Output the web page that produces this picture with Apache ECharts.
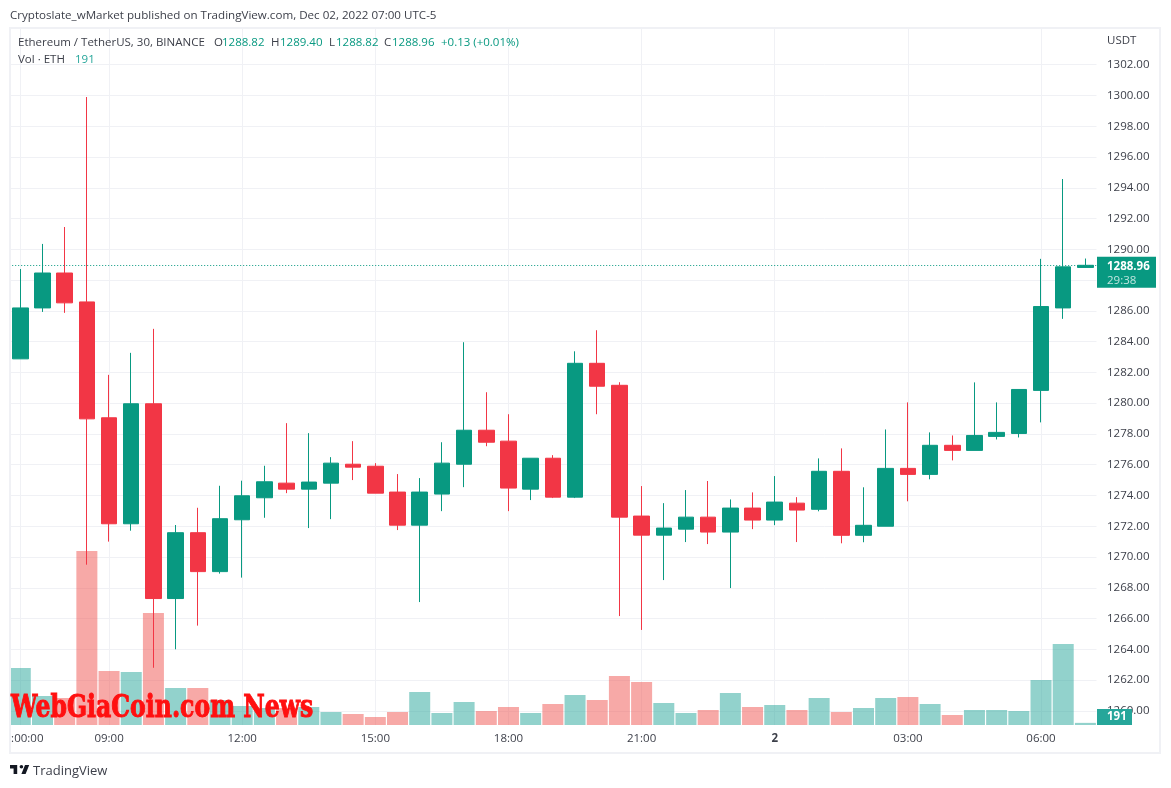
<!DOCTYPE html>
<html>
<head>
<meta charset="utf-8">
<title>ETH/USDT 30m</title>
<style>
  html, body { margin: 0; padding: 0; background: #fff; }
  #chart { width: 1171px; height: 788px; }
</style>
<script src="https://cdn.jsdelivr.net/npm/echarts@6/dist/echarts.min.js"></script>
</head>
<body>
<div id="chart"></div>
<script>
const categories = [
  '07:00','07:30','08:00','08:30','09:00','09:30','10:00','10:30','11:00','11:30',
  '12:00','12:30','13:00','13:30','14:00','14:30','15:00','15:30','16:00','16:30',
  '17:00','17:30','18:00','18:30','19:00','19:30','20:00','20:30','21:00','21:30',
  '22:00','22:30','23:00','23:30','00:00','00:30','01:00','01:30','02:00','02:30',
  '03:00','03:30','04:00','04:30','05:00','05:30','06:00','06:30','07:00 '
];
const opens = [
  1282.88,1286.19,1288.46,1286.58,1279.05,1272.16,1279.96,1267.30,1271.58,1269.05,
  1272.42,1273.85,1274.80,1274.41,1274.80,1276.03,1275.90,1274.22,1272.07,1274.09,
  1276.03,1278.24,1277.53,1274.41,1276.42,1273.89,1282.59,1281.16,1272.66,1271.42,
  1271.81,1272.59,1271.62,1273.18,1272.40,1273.50,1273.10,1275.57,1271.41,1272.00,
  1275.76,1275.37,1277.26,1276.93,1277.84,1278.03,1280.83,1286.19,1288.82
];
const closes = [
  1286.19,1288.46,1286.52,1278.98,1272.16,1279.96,1267.30,1271.58,1269.05,1272.49,
  1273.98,1274.89,1274.41,1274.87,1276.10,1275.84,1274.15,1272.07,1274.22,1276.10,
  1278.24,1277.46,1274.48,1276.42,1273.89,1282.59,1281.10,1272.59,1271.42,1271.88,
  1272.59,1271.62,1273.18,1272.40,1273.57,1273.05,1275.57,1271.41,1272.06,1275.76,
  1275.37,1277.26,1276.93,1277.90,1278.10,1280.89,1286.28,1288.86,1288.96
];
const lows = [
  1282.88,1285.93,1285.87,1269.50,1271.00,1271.71,1262.80,1264.00,1265.54,1268.92,
  1268.66,1272.55,1274.15,1271.88,1272.46,1275.00,1274.15,1271.75,1267.07,1272.98,
  1274.54,1277.20,1272.98,1273.70,1273.83,1273.83,1279.28,1266.16,1265.26,1268.50,
  1270.97,1270.84,1267.98,1271.81,1272.07,1270.97,1272.97,1270.89,1270.96,1272.00,
  1273.62,1275.05,1276.28,1276.93,1277.64,1277.77,1278.75,1285.48,1288.82
];
const highs = [
  1288.72,1290.35,1291.45,1299.90,1281.84,1283.27,1284.83,1272.08,1273.20,1274.63,
  1274.96,1275.93,1278.70,1278.05,1276.49,1277.53,1276.10,1275.39,1275.13,1277.46,
  1283.96,1280.71,1279.28,1276.42,1276.62,1283.37,1284.74,1281.36,1274.61,1273.50,
  1274.35,1274.94,1273.74,1274.20,1275.26,1273.89,1276.41,1277.06,1274.53,1278.29,
  1280.05,1278.10,1277.90,1281.35,1280.05,1280.89,1289.38,1294.57,1289.40
];
const volumes = [
  5130,2610,2430,15660,4860,4770,10080,3330,3330,2250,
  1710,1530,1530,1620,1170,990,720,1170,2970,1080,
  2070,1260,1620,1080,1890,2700,2250,4410,3870,1980,
  1080,1350,2880,1620,1800,1350,2430,1170,1530,2430,
  2520,1890,900,1350,1350,1260,4050,7290,191
];
const priceTicks = [1260,1262,1264,1266,1268,1270,1272,1274,1276,1278,1280,1282,1284,1286,1288,1290,1292,1294,1296,1298,1300,1302];
const timeLabels = {
  '07:00': '{first|:00:00}', '09:00': '09:00', '12:00': '12:00', '15:00': '15:00',
  '18:00': '18:00', '21:00': '21:00', '00:00': '{day|2}', '03:00': '03:00', '06:00': '06:00'
};
const lastClose = closes[closes.length - 1];
const lastVolume = volumes[volumes.length - 1];

const UP = '#089981';
const DOWN = '#f23645';
const GRID = '#f0f1f5';
const TEXT = '#3c3f49';
const FONT = '"Open Sans", sans-serif';

const chart = echarts.init(document.getElementById('chart'), null, { renderer: 'canvas' });

chart.setOption({
  animation: false,
  backgroundColor: '#fff',
  grid: { left: 9.2, top: 29, width: 1087.3, height: 696 },
  xAxis: {
    type: 'category',
    data: categories,
    boundaryGap: true,
    axisLine: { show: false },
    axisTick: { show: false, alignWithLabel: true, interval: (i, v) => v in timeLabels },
    splitLine: { show: true, alignWithLabel: true, interval: (i, v) => v in timeLabels, lineStyle: { color: GRID, width: 1 } },
    axisLabel: {
      interval: (i, v) => v in timeLabels,
      margin: 8,
      color: TEXT,
      fontFamily: FONT,
      fontSize: 11.5,
      formatter: v => timeLabels[v] || '',
      rich: {
        first: { padding: [0, 0, 0, 14], color: TEXT, fontFamily: FONT, fontSize: 11.5 },
        day: { fontWeight: 'bold', color: TEXT, fontFamily: FONT, fontSize: 11.5 }
      }
    }
  },
  yAxis: [
    {
      type: 'value',
      position: 'right',
      min: 1259.08,
      max: 1304.32,
      axisLine: { show: false },
      axisTick: { show: false, customValues: priceTicks },
      splitLine: { show: true, lineStyle: { color: GRID, width: 1 } },
      axisLabel: {
        customValues: priceTicks,
        margin: 10.5,
        padding: [2, 0, 0, 0],
        color: TEXT,
        fontFamily: FONT,
        fontSize: 11.5,
        formatter: v => v.toFixed(2)
      }
    },
    { type: 'value', min: 0, max: 62640, show: false }
  ],
  series: [
    {
      name: 'Vol',
      type: 'bar',
      yAxisIndex: 1,
      barWidth: 21,
      data: volumes.map((v, i) => ({
        value: v,
        itemStyle: { color: closes[i] >= opens[i] ? 'rgba(38,166,154,0.5)' : 'rgba(239,83,80,0.5)' }
      }))
    },
    {
      name: 'ETHUSDT',
      type: 'candlestick',
      yAxisIndex: 0,
      barWidth: 16,
      data: opens.map((o, i) => [o, closes[i], lows[i], highs[i]]),
      itemStyle: { color: UP, color0: DOWN, borderColor: UP, borderColor0: DOWN, borderWidth: 1 },
      markLine: {
        silent: true,
        symbol: 'none',
        label: { show: false },
        lineStyle: { color: UP, type: [1, 2], width: 1 },
        data: [{ yAxis: lastClose }]
      }
    }
  ]
});

// the two tags on the price scale follow the last close / last volume
const closeY = chart.convertToPixel({ yAxisIndex: 0 }, lastClose);
const volY = chart.convertToPixel({ yAxisIndex: 1 }, 0);

const legendParts = [
  ['Ethereum / TetherUS, 30, BINANCE', 18, TEXT],
  ['O', 214, TEXT], ['1288.82', 222, UP],
  ['H', 271, TEXT], ['1289.40', 280, UP],
  ['L', 329, TEXT], ['1288.82', 336, UP],
  ['C', 384, TEXT], ['1288.96', 392, UP],
  ['+0.13 (+0.01%)', 441, UP]
];
const txt = (text, x, y, fill, size, extra) => ({
  type: 'text', z: 50, x, y,
  style: Object.assign({ text, fill, font: (size || 11.5) + 'px ' + FONT, textVerticalAlign: 'middle' }, extra || {})
});

chart.setOption({
  graphic: [
    { type: 'rect', z: 40, shape: { x: 10, y: 28, width: 1150, height: 725 }, style: { fill: 'none', stroke: GRID, lineWidth: 2 } },
    { type: 'rect', z: 39, shape: { x: 0, y: 0, width: 9, height: 788 }, style: { fill: '#fff' } },
    txt('Cryptoslate_wMarket published on TradingView.com, Dec 02, 2022 07:00 UTC-5', 10, 16, TEXT, 11.6),
    ...legendParts.map(p => txt(p[0], p[1], 43, p[2])),
    txt('Vol · ETH', 18, 60, TEXT),
    txt(String(lastVolume), 75, 60, '#26a69a'),
    txt('USDT', 1107, 41, TEXT),
    // last price tag
    { type: 'rect', z: 45, shape: { x: 1097, y: closeY - 8.5, width: 59, height: 31 }, style: { fill: UP } },
    txt(lastClose.toFixed(2), 1107, closeY + 1, '#fff', 11.5, { font: 'bold 11.5px ' + FONT }),
    txt('29:38', 1107, closeY + 15, 'rgba(255,255,255,0.75)'),
    // last volume tag
    { type: 'rect', z: 45, shape: { x: 1097, y: volY - 16, width: 35, height: 16 }, style: { fill: '#26a69a' } },
    txt(String(lastVolume), 1107, volY - 8, '#fff', 11.5, { font: 'bold 11.5px ' + FONT }),
    // watermark
    {
      type: 'text', z: 60, x: 11, y: 724, scaleX: 0.76, originY: 724,
      style: { text: 'WebGiaCoin.com News', fill: '#ff1010', stroke: '#ff1010', lineWidth: 1, font: 'bold 31px "DejaVu Serif", serif', textVerticalAlign: 'bottom' }
    },
    // footer logo
    {
      type: 'group', z: 50, x: 8.8, y: 761.4, scaleX: 0.6, scaleY: 0.6,
      children: [
        { type: 'polygon', shape: { points: [[2, 6], [14, 6], [14, 21], [8, 21], [8, 12], [2, 12]] }, style: { fill: '#131722' } },
        { type: 'polygon', shape: { points: [[21, 21], [28, 21], [34, 6], [27, 6]] }, style: { fill: '#131722' } },
        { type: 'circle', shape: { cx: 21, cy: 9, r: 3 }, style: { fill: '#131722' } }
      ]
    },
    txt('TradingView', 33, 771, TEXT, 13)
  ]
});

window.addEventListener('resize', () => chart.resize());
</script>
</body>
</html>
